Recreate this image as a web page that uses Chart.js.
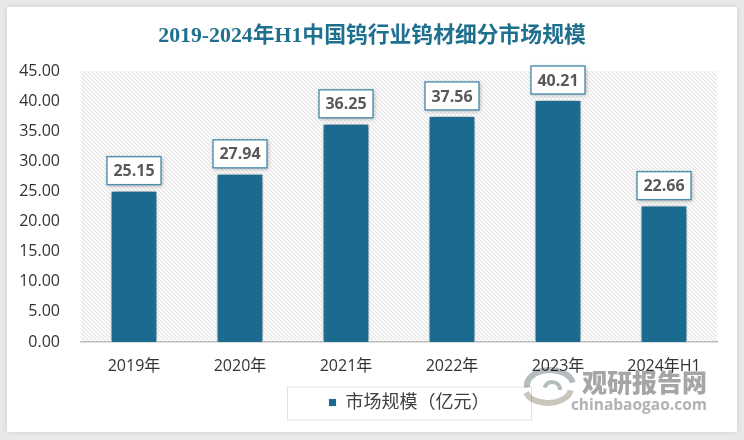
<!DOCTYPE html>
<html lang="zh">
<head>
<meta charset="utf-8">
<title>中国钨行业钨材细分市场规模</title>
<script src="https://cdn.jsdelivr.net/npm/chart.js@4"></script>
<style>
  html, body { margin:0; padding:0; background:#e9e9e9; }
  #wrap { width:744px; height:440px; }
</style>
</head>
<body>
<div id="wrap"><canvas id="chart" width="744" height="440"></canvas></div>
<script>
// data
const categories = ['2019年','2020年','2021年','2022年','2023年','2024年H1'];
const marketSize = [25.15, 27.94, 36.25, 37.56, 40.21, 22.66];
const seriesName = '市场规模（亿元）';
const chartTitle = '2019-2024年H1中国钨行业钨材细分市场规模';

const SANS = '"Open Sans","Noto Sans CJK SC",sans-serif';
const SERIF = '"Liberation Serif","Noto Sans CJK SC",serif';
const BAR = '#1b6b91';

// diagonal hatch behind the plot
function makeHatch(ctx){
  const t = document.createElement('canvas');
  t.width = 4; t.height = 4;
  const c = t.getContext('2d');
  c.fillStyle = '#fcfcfc';
  c.fillRect(0,0,4,4);
  c.fillStyle = '#e2e2e2';
  for(let i=0;i<4;i++) c.fillRect(i,i,1,1);
  c.fillStyle = '#f3f3f3';
  for(let i=0;i<4;i++) c.fillRect((i+1)%4,i,1,1);
  return ctx.createPattern(t,'repeat');
}

// page panel, hatch, bar shadow
const backdrop = {
  id:'backdrop',
  afterLayout(chart){
    // legend goes inside its frame, not at the canvas edge
    const lg = chart.legend;
    const w = lg.right - lg.left, h = lg.bottom - lg.top;
    lg.left = 409 - w/2;
    lg.right = lg.left + w;
    lg.top = 403.5 - h/2;
    lg.bottom = lg.top + h;
    // title is centred on the page, not on the padded box
    chart.titleBlock.left += 6;
    chart.titleBlock.right += 6;
  },
  beforeDraw(chart){
    const {ctx, chartArea:a} = chart;
    ctx.save();
    ctx.shadowColor = 'rgba(0,0,0,0.12)';
    ctx.shadowBlur = 5;
    ctx.fillStyle = '#fff';
    ctx.fillRect(7,7,730,425);
    ctx.restore();
    ctx.save();
    ctx.fillStyle = makeHatch(ctx);
    ctx.fillRect(a.left,a.top,a.width,a.height);
    // legend frame
    ctx.strokeStyle = '#e2e2e2';
    ctx.lineWidth = 1;
    ctx.strokeRect(287.5,387,244,33);
    ctx.restore();
  },
  beforeDatasetsDraw(chart){
    const ctx = chart.ctx;
    ctx.save();
    ctx.shadowColor = 'rgba(0,0,0,0.45)';
    ctx.shadowBlur = 7;
  },
  afterDatasetsDraw(chart){
    chart.ctx.restore();
  }
};

// boxed value labels over the bars
const valueBoxes = {
  id:'valueBoxes',
  afterDraw(chart){
    const ctx = chart.ctx;
    const meta = chart.getDatasetMeta(0);
    ctx.save();
    meta.data.forEach((bar,i)=>{
      const w = 54, h = 28;
      const x = bar.x - w/2, y = bar.y - 6 - h;
      ctx.save();
      ctx.shadowColor = 'rgba(0,0,0,0.3)';
      ctx.shadowBlur = 4;
      ctx.shadowOffsetX = 1;
      ctx.shadowOffsetY = 1;
      ctx.fillStyle = '#fff';
      ctx.fillRect(x,y,w,h);
      ctx.restore();
      ctx.strokeStyle = '#4f8fae';
      ctx.lineWidth = 1.4;
      ctx.strokeRect(x,y,w,h);
      ctx.fillStyle = '#595959';
      ctx.font = 'bold 16px '+SANS;
      ctx.textAlign = 'center';
      ctx.textBaseline = 'middle';
      ctx.fillText(marketSize[i].toFixed(2), bar.x, y+h/2+1);
    });
    ctx.restore();
  }
};

// site watermark, bottom right, sits under the darker labels
const watermark = {
  id:'watermark',
  afterDraw(chart){
    const ctx = chart.ctx;
    ctx.save();
    ctx.globalCompositeOperation = 'multiply';
    ctx.strokeStyle = '#b4bcbf';
    ctx.lineWidth = 6;
    ctx.beginPath(); ctx.ellipse(550,385,23,15,0,Math.PI*0.95,Math.PI*1.95); ctx.stroke();
    ctx.strokeStyle = '#cbc6bb';
    ctx.beginPath(); ctx.ellipse(548,388,23,15,0,Math.PI*0.05,Math.PI*0.9); ctx.stroke();
    ctx.lineWidth = 4;
    ctx.strokeStyle = '#b4bcbf';
    ctx.beginPath(); ctx.arc(552,390,8,Math.PI*1.1,Math.PI*2); ctx.stroke();
    ctx.fillStyle = '#a3a5a7';
    ctx.textAlign = 'right';
    ctx.textBaseline = 'alphabetic';
    ctx.font = '900 25px "Noto Sans CJK SC",sans-serif';
    ctx.fillText('观研报告网',707,392);
    ctx.fillStyle = '#b0b2b4';
    ctx.font = 'bold 15.5px "Open Sans",sans-serif';
    ctx.fillText('chinabaogao.com',707,410);
    ctx.restore();
  }
};

new Chart(document.getElementById('chart'),{
  type:'bar',
  data:{
    labels:categories,
    datasets:[{
      label:seriesName,
      data:marketSize,
      backgroundColor:BAR,
      borderColor:'#f4f8fa',
      borderWidth:1,
      barPercentage:0.88,
      categoryPercentage:0.5
    }]
  },
  plugins:[backdrop,valueBoxes,watermark],
  options:{
    responsive:false,
    animation:false,
    devicePixelRatio:1,
    layout:{padding:{left:15,right:27,top:0,bottom:0}},
    plugins:{
      tooltip:{enabled:false},
      title:{
        display:true,
        text:chartTitle,
        color:'#1f6f8f',
        font:{family:SERIF,size:21.8,weight:'bold'},
        padding:{top:23,bottom:22}
      },
      legend:{
        display:true,
        position:'bottom',
        labels:{
          boxWidth:8,
          boxHeight:8,
          color:'#404040',
          font:{family:SANS,size:18},
          padding:8
        }
      }
    },
    scales:{
      x:{
        grid:{display:false,drawTicks:false},
        border:{display:true,color:'#bdbdbd',width:1.5},
        ticks:{color:'#333',font:{family:SANS,size:16},padding:15,maxRotation:0,autoSkip:false},
        afterFit(s){ s.height = 62; }
      },
      y:{
        min:0,max:45,
        grid:{display:false,drawTicks:false},
        border:{display:false},
        ticks:{
          stepSize:5,
          color:'#333',
          font:{family:SANS,size:16},
          padding:21,
          callback:v=>v.toFixed(2)
        },
        afterFit(s){ s.width = 66; }
      }
    }
  }
});
</script>
</body>
</html>
